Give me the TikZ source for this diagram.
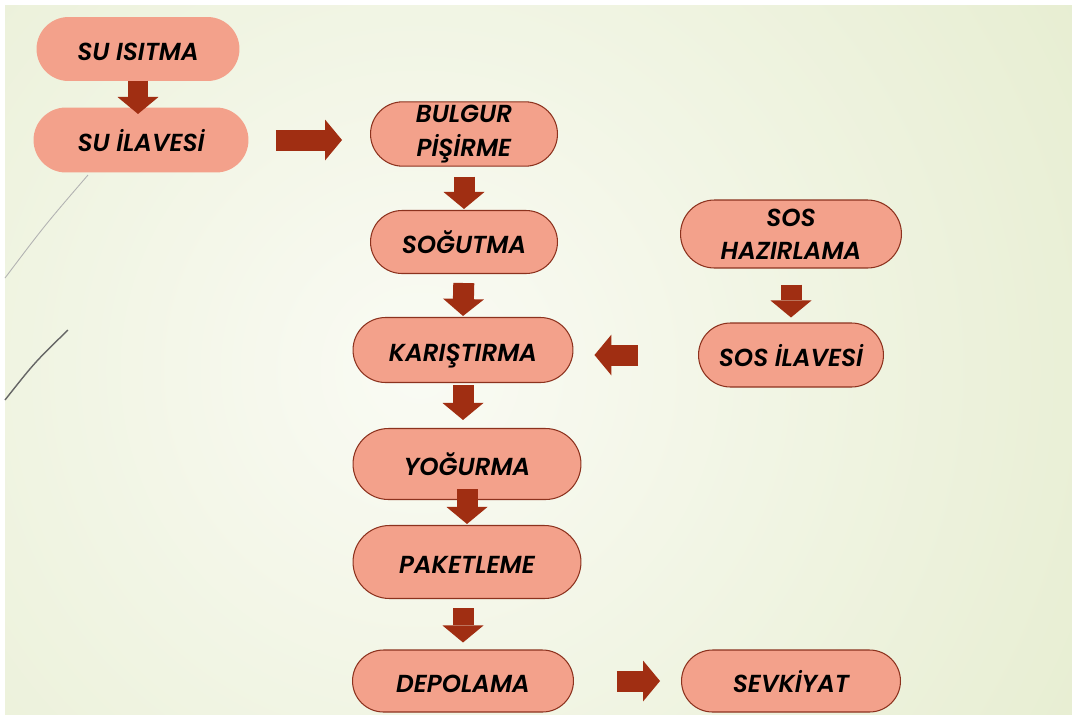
\documentclass[tikz,border=0pt]{standalone}
\usepackage{fontspec}
\setmainfont{Poppins}[BoldItalicFont={Poppins SemiBold Italic}]
\usetikzlibrary{shapes.misc,arrows.meta}
\definecolor{bgwhite}{RGB}{250,251,244}
\definecolor{bggreen}{RGB}{220,230,190}
\definecolor{boxfill}{RGB}{243,161,139}
\definecolor{boxline}{RGB}{140,50,30}
\definecolor{arrowred}{RGB}{160,46,18}

\begin{document}
\begin{tikzpicture}[x=0.02cm, y=-0.02cm,
    flow/.style={draw=arrowred, line width=0.42cm, -{Triangle[width=0.82cm, length=0.34cm, line width=0pt]}},
    oneline/.style={text height=13pt, text depth=0pt}]
   \useasboundingbox (0,0) rectangle (1072,714);
   \fill[white] (0,0) rectangle (1072,714);
   \begin{scope}
    \clip (5,5) rectangle (1072,714);
    \shade[inner color=bgwhite, outer color=bggreen] (420,370) circle (24cm);
   \end{scope}
   \draw[black!30, line width=0.5pt] (88,175) .. controls (45,225) .. (5,278);
   \draw[black!60, line width=0.8pt] (68,330) .. controls (35,362) .. (5,400);
   \begin{scope}[every node/.style={rounded rectangle, fill=boxfill, draw=boxline, line width=0.6pt, align=center, inner sep=2pt, font=\fontsize{14}{19}\selectfont\bfseries\itshape}]
    \node[oneline, draw=none, minimum width=4.2cm, minimum height=1.28cm] (isitma) at (138,49) {SU ISITMA};
    \node[oneline, draw=none, minimum width=4.44cm, minimum height=1.3cm] (ilave) at (141,140) {SU İLAVESİ};
    \node[minimum width=3.88cm, minimum height=1.28cm] (pisirme) at (464,134) {BULGUR\\PİŞİRME};
    \node[oneline, minimum width=3.88cm, minimum height=1.26cm] (sogutma) at (464,242) {SOĞUTMA};
    \node[oneline, minimum width=4.54cm, minimum height=1.3cm] (karistirma) at (463,350) {KARIŞTIRMA};
    \node[oneline, minimum width=4.7cm, minimum height=1.42cm] (yogurma) at (467,464) {YOĞURMA};
    \node[oneline, minimum width=4.7cm, minimum height=1.46cm] (paketleme) at (467,562) {PAKETLEME};
    \node[oneline, minimum width=4.56cm, minimum height=1.24cm] (depolama) at (463,681) {DEPOLAMA};
    \node[oneline, minimum width=4.52cm, minimum height=1.24cm] (sevkiyat) at (791,681) {SEVKİYAT};
    \node[minimum width=4.56cm, minimum height=1.36cm] (soshaz) at (791,234) {SOS\\HAZIRLAMA};
    \node[oneline, minimum width=3.84cm, minimum height=1.28cm] (sosilave) at (791,355) {SOS İLAVESİ};
   \end{scope}
   \draw[flow, shorten <=-0.02cm, shorten >=-0.14cm] (isitma.south) -- (isitma.south |- ilave.north);
   \draw[flow, shorten <=0.54cm, shorten >=0.56cm] (ilave.east) -- (ilave.east -| pisirme.west);
   \draw[flow, shorten <=0.2cm, shorten >=0.02cm] (pisirme.south) -- (sogutma.north);
   \draw[flow, shorten <=0.18cm, shorten >=0.02cm] (sogutma.south) -- (karistirma.north);
   \draw[flow, shorten <=0.04cm, shorten >=0.16cm] (karistirma.south) -- (karistirma.south |- yogurma.north);
   \draw[flow, shorten <=-0.22cm, shorten >=0.02cm] (yogurma.south) -- (paketleme.north);
   \draw[flow, shorten <=0.18cm, shorten >=0.14cm] (depolama.north |- paketleme.south) -- (depolama.north);
   \draw[flow, shorten <=0.86cm, shorten >=0.42cm] (depolama.east) -- (sevkiyat.west);
   \draw[flow, shorten <=0.32cm, shorten >=0.1cm] (soshaz.south) -- (sosilave.north);
   \draw[flow, shorten <=1.2cm, shorten >=0.42cm] (sosilave.west) -- (sosilave.west -| karistirma.east);
\end{tikzpicture}
\end{document}
